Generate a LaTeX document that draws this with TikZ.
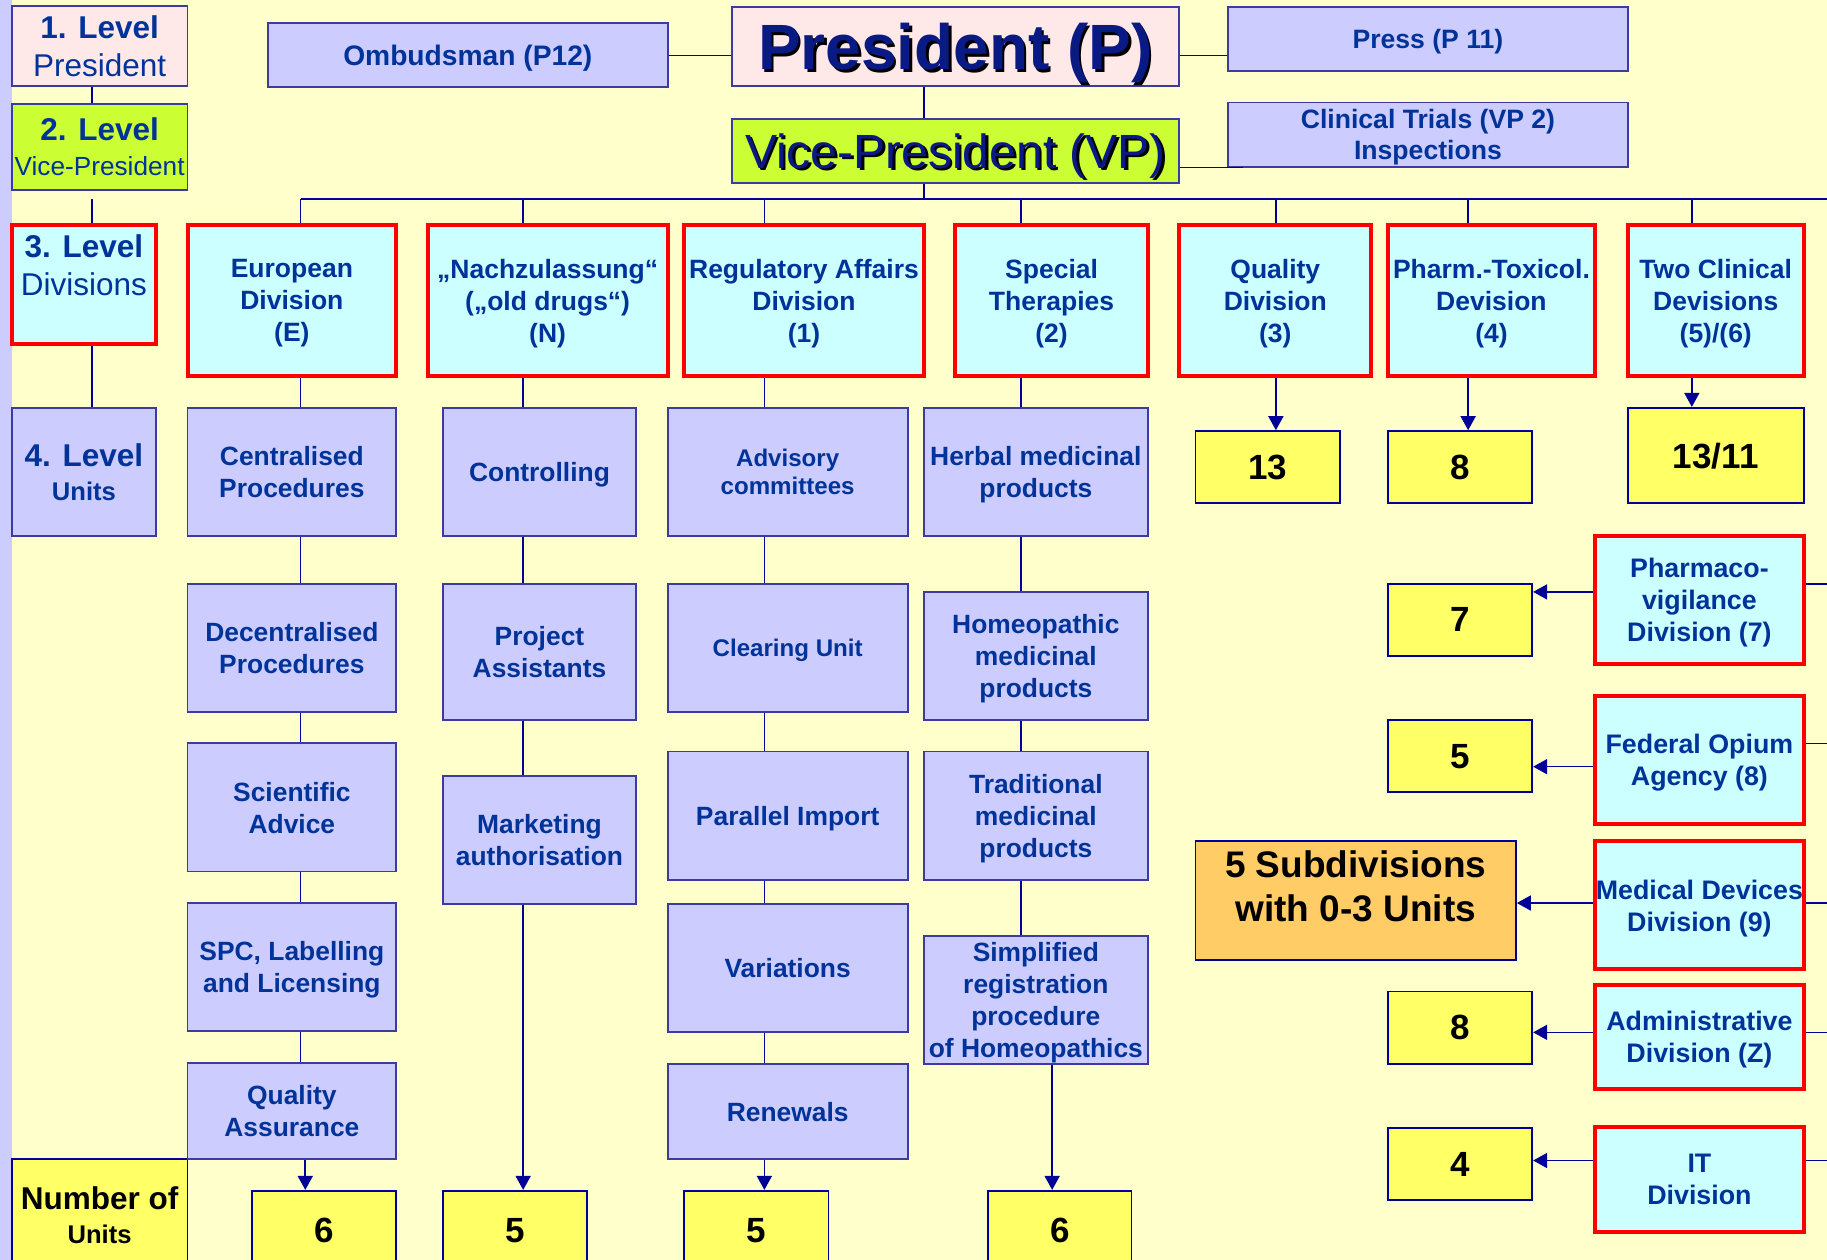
\documentclass[tikz,border=0pt]{standalone}
\usepackage{fontspec}
\setmainfont{Liberation Sans}
\usetikzlibrary{arrows.meta}

\definecolor{bgyellow}{HTML}{FFFFCC}
\definecolor{lavender}{HTML}{CCCCFF}
\definecolor{cyanbox}{HTML}{CCFFFF}
\definecolor{numyellow}{HTML}{FFFF66}
\definecolor{greenbox}{HTML}{CCFF33}
\definecolor{pinkbox}{HTML}{FFE8E8}
\definecolor{orangebox}{HTML}{FFCC66}
\definecolor{divred}{HTML}{FF0000}
\definecolor{boxline}{HTML}{3B3BA0}
\definecolor{numline}{HTML}{000099}
\definecolor{lineblue}{HTML}{000099}
\definecolor{txtblue}{HTML}{003399}
\definecolor{presblue}{HTML}{0A1A85}

\newcommand\divfont{\fontsize{26.5}{32}\selectfont\bfseries}
\newcommand\rdivfont{\fontsize{26.8}{32}\selectfont\bfseries}
\newcommand\unitfont{\fontsize{26.4}{32}\selectfont\bfseries}
\newcommand\smallunitfont{\fontsize{24.1}{28}\selectfont\bfseries}
\newcommand\numfont{\fontsize{35}{40}\selectfont\bfseries}
\newcommand\lvlfont{\fontsize{31.5}{38}\selectfont}
\newcommand\shadowtxt[1]{\makebox[0pt][l]{\hspace{2.5pt}\raisebox{-2.5pt}{\color{black}#1}}#1}

\tikzset{
  sz/.style 2 args={minimum width=#1*1.1652pt, minimum height=#2*1.1652pt},
  plainbox/.style={draw=boxline, line width=1.8pt, inner sep=1pt, align=center, text=txtblue, text depth=0pt},
  unitbox/.style={plainbox, fill=lavender, font=\unitfont},
  divbox/.style={plainbox, draw=divred, line width=4pt, fill=cyanbox, font=\divfont, text depth=-2pt},
  numbox/.style={plainbox, draw=numline, fill=numyellow, text=black, font=\numfont},
  subbox/.style={plainbox, draw=numline, fill=orangebox},
  subtext/.style={align=center, text=black, font=\fontsize{37}{44}\selectfont\bfseries},
  ln/.style={draw=lineblue, line width=1.6pt},
  arr/.style={ln, -{Triangle[length=14pt,width=15pt]}},
}

\begin{document}
\begin{tikzpicture}[x=1.1652pt, y=-1.1652pt]
\useasboundingbox (0,0) rectangle (1568,1081);
\clip (0,0) rectangle (1568,1081);
\fill[bgyellow] (0,0) rectangle (1568,1081);
\fill[lavender] (0,0) rectangle (10,1081);

% helper coordinates for the connector columns
\coordinate (lx) at (79,0);
\coordinate (vx) at (793,0);
\coordinate (busL) at (258,171);
\coordinate (busR) at (1568,171);
\coordinate (redge) at (1568,0);
\coordinate (cE) at (258,0);
\coordinate (cEb) at (262,0);
\coordinate (cN) at (449,0);
\coordinate (c1) at (656,0);
\coordinate (c2) at (876,0);
\coordinate (c2b) at (903,0);
\coordinate (c3) at (1095,0);
\coordinate (c4) at (1260,0);
\coordinate (c56) at (1452,0);

% levels
\node[plainbox, sz={151}{69}, fill=pinkbox, font=\lvlfont] (l1) at (85.5,39.5) {\textbf{1. Level}\\President};
\node[plainbox, sz={151}{74}, fill=greenbox, font=\fontsize{31.5}{35}\selectfont] (l2) at (85.5,126) {\textbf{2. Level}\\{\fontsize{26.2}{35}\selectfont Vice-President}};
\node[divbox, sz={124}{102}, font=\lvlfont, text depth=-6pt] (l3) at (72,244) {\textbf{3. Level}\\Divisions\\\mbox{}};
\node[unitbox, sz={124}{110}, font=\fontsize{31.5}{34}\selectfont\bfseries] (l4) at (72,405) {4. Level\\{\fontsize{25.6}{34}\selectfont Units}};
\node[numbox, sz={151}{95}, font=\fontsize{31.5}{34}\selectfont\bfseries] (nou) at (85.5,1042.5) {Number of\\{\fontsize{25.6}{34}\selectfont Units}};

% top
\node[unitbox, sz={343}{55}, font=\fontsize{28.2}{32}\selectfont\bfseries] (omb) at (401.5,47.5) {Ombudsman (P12)};
\node[plainbox, sz={384}{68}, fill=pinkbox, text=presblue, font=\fontsize{64}{70}\selectfont\bfseries] (pres) at (820,40) {\shadowtxt{President (P)}};
\node[unitbox, sz={343}{55}, font=\fontsize{26.6}{30}\selectfont\bfseries] (press) at (1225.5,33.5) {Press (P 11)};
\node[plainbox, sz={384}{55}, fill=greenbox, text=presblue, font=\fontsize{48}{55}\selectfont] (vp) at (820,129.5) {\shadowtxt{Vice-President (VP)}};
\node[unitbox, sz={343}{55}, font=\fontsize{26.6}{31.5}\selectfont\bfseries, text depth=-3pt] (clin) at (1225.5,115.5) {Clinical Trials (VP 2)\\Inspections};

% divisions
\node[divbox, sz={179}{130}] (dE) at (250.5,258) {European\\Division\\(E)};
\node[divbox, sz={206}{130}] (dN) at (470,258) {„Nachzulassung“\\(„old drugs“)\\(N)};
\node[divbox, sz={206}{130}] (d1) at (690,258) {Regulatory Affairs\\Division\\(1)};
\node[divbox, sz={165}{130}] (d2) at (902.5,258) {Special\\Therapies\\(2)};
\node[divbox, sz={165}{130}] (d3) at (1094.5,258) {Quality\\Division\\(3)};
\node[divbox, sz={178}{130}] (d4) at (1280,258) {Pharm.-Toxicol.\\Devision\\(4)};
\node[divbox, sz={151}{130}] (d56) at (1472.5,258) {Two Clinical\\Devisions\\(5)/(6)};

% units, European Division
\node[unitbox, sz={179}{110}] (cp) at (250.5,405) {Centralised\\Procedures};
\node[unitbox, sz={179}{110}] (dp) at (250.5,556) {Decentralised\\Procedures};
\node[unitbox, sz={179}{110}] (sa) at (250.5,693) {Scientific\\Advice};
\node[unitbox, sz={179}{110}] (spc) at (250.5,830) {SPC, Labelling\\and Licensing};
\node[unitbox, sz={179}{83}] (qa) at (250.5,953.5) {Quality\\Assurance};
\node[numbox, sz={124}{68}] (nE) at (278,1056) {6};

% units, Nachzulassung
\node[unitbox, sz={166}{110}] (ctrl) at (463,405) {Controlling};
\node[unitbox, sz={166}{117}] (pa) at (463,559.5) {Project\\Assistants};
\node[unitbox, sz={166}{110}] (ma) at (463,721) {Marketing\\authorisation};
\node[numbox, sz={124}{68}] (nN) at (442,1056) {5};

% units, Regulatory Affairs
\node[unitbox, sz={206}{110}, font=\smallunitfont] (adv) at (676,405) {Advisory\\committees};
\node[unitbox, sz={206}{110}, font=\smallunitfont] (clu) at (676,556) {Clearing Unit};
\node[unitbox, sz={206}{110}] (pi) at (676,700) {Parallel Import};
\node[unitbox, sz={206}{110}] (var) at (676,831) {Variations};
\node[unitbox, sz={206}{82}] (ren) at (676,954) {Renewals};
\node[numbox, sz={124}{68}] (n1) at (649,1056) {5};

% units, Special Therapies
\node[unitbox, sz={192}{110}] (herb) at (889,405) {Herbal medicinal\\products};
\node[unitbox, sz={192}{110}] (homeo) at (889,563) {Homeopathic\\medicinal\\products};
\node[unitbox, sz={192}{110}] (trad) at (889,700) {Traditional\\medicinal\\products};
\node[unitbox, sz={192}{110}] (simp) at (889,858) {Simplified\\registration\\procedure\\of Homeopathics};
\node[numbox, sz={123}{68}] (n2) at (909.5,1056) {6};

% right side
\node[numbox, sz={124}{62}] (n3) at (1088,401) {13};
\node[numbox, sz={124}{62}] (n4) at (1253,401) {8};
\node[numbox, sz={151}{82}] (n56) at (1472.5,391) {13/11};
\node[divbox, sz={179}{110}, font=\rdivfont] (pv) at (1458.5,515) {Pharmaco-\\vigilance\\Division (7)};
\node[numbox, sz={124}{62}] (n7) at (1253,532) {7};
\node[divbox, sz={179}{110}, font=\rdivfont] (fo) at (1458.5,652) {Federal Opium\\Agency (8)};
\node[numbox, sz={124}{62}] (n8) at (1253,649) {5};
\node[divbox, sz={179}{110}, font=\rdivfont] (md) at (1458.5,777) {Medical Devices\\Division (9)};
\node[subbox, sz={275}{102}, label={[subtext, yshift=14pt]center:5 Subdivisions\\with 0-3 Units}] (sub) at (1163.5,773) {};
\node[divbox, sz={179}{90}, font=\rdivfont] (adm) at (1458.5,890) {Administrative\\Division (Z)};
\node[numbox, sz={124}{62}] (nz) at (1253,882) {8};
\node[divbox, sz={179}{90}, font=\rdivfont] (it) at (1458.5,1012) {IT\\Division};
\node[numbox, sz={124}{62}] (nit) at (1253,999) {4};

% level column
\draw[ln] (l1.south -| lx) -- (l2.north -| lx);
\draw[ln] (l2.south -| lx) ++(0,7) -- (l3.north -| lx);
\draw[ln] (l3.south -| lx) -- (l4.north -| lx);

% top connectors
\draw[ln] (omb.east) -- (omb.east -| pres.west);
\draw[ln] (pres.east |- omb.east) -- (press.west |- omb.east);
\draw[ln] (pres.south -| vx) -- (vp.north -| vx);
\draw[ln] (vp.east |- clin.south) -- ([xshift=16pt]clin.south west);
\draw[ln] (vp.south -| vx) -- (vx |- busL);
\draw[ln] (busL) -- (busR);
\foreach \d/\c in {dE/cE, dN/cN, d1/c1, d2/c2, d3/c3, d4/c4, d56/c56}
  \draw[ln] (\c |- busL) -- (\c |- \d.north);

% unit chains
\foreach \a/\b in {dE/cp, cp/dp, dp/sa, sa/spc, spc/qa}
  \draw[ln] (cE |- \a.south) -- (cE |- \b.north);
\foreach \a/\b in {dN/ctrl, ctrl/pa, pa/ma}
  \draw[ln] (cN |- \a.south) -- (cN |- \b.north);
\foreach \a/\b in {d1/adv, adv/clu, clu/pi, pi/var, var/ren}
  \draw[ln] (c1 |- \a.south) -- (c1 |- \b.north);
\foreach \a/\b in {d2/herb, herb/homeo, homeo/trad, trad/simp}
  \draw[ln] (c2 |- \a.south) -- (c2 |- \b.north);

% unit counts
\draw[arr] (cEb |- qa.south) -- (cEb |- nE.north);
\draw[arr] (cN |- ma.south) -- (cN |- nN.north);
\draw[arr] (c1 |- ren.south) -- (c1 |- n1.north);
\draw[arr] (c2b |- simp.south) -- (c2b |- n2.north);
\draw[arr] (c3 |- d3.south) -- (c3 |- n3.north);
\draw[arr] (c4 |- d4.south) -- (c4 |- n4.north);
\draw[arr] (c56 |- d56.south) -- (c56 |- n56.north);

% right divisions
\draw[arr] (pv.west) ++(0,-7) coordinate (a7) -- (n7.east |- a7);
\draw[arr] (fo.west) ++(0,6) coordinate (a8) -- (n8.east |- a8);
\draw[arr] (md.west) ++(0,-2) coordinate (a9) -- (sub.east |- a9);
\draw[arr] (adm.west) ++(0,-4) coordinate (az) -- (nz.east |- az);
\draw[arr] (it.west) ++(0,-16) coordinate (ait) -- (nit.east |- ait);
\draw[ln] (pv.east) ++(0,-14) coordinate (r7) -- (redge |- r7);
\draw[ln] (fo.east) ++(0,-14) coordinate (r8) -- (redge |- r8);
\draw[ln] (md.east) ++(0,-2) coordinate (r9) -- (redge |- r9);
\draw[ln] (adm.east) ++(0,-4) coordinate (rz) -- (redge |- rz);
\draw[ln] (it.east) ++(0,-16) coordinate (rit) -- (redge |- rit);
\end{tikzpicture}
\end{document}
